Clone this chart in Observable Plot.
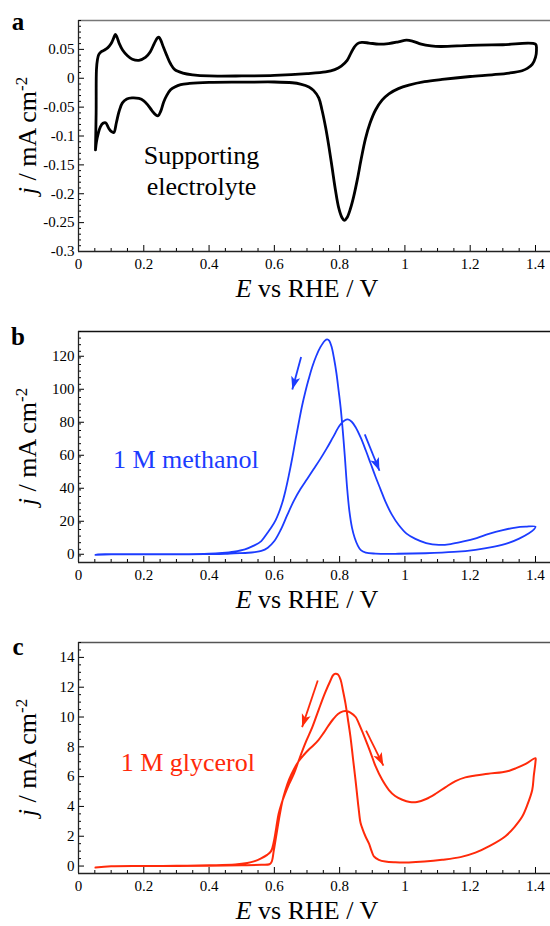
<!DOCTYPE html>
<html><head><meta charset="utf-8">
<script src="https://cdn.jsdelivr.net/npm/d3@7"></script>
<script src="https://cdn.jsdelivr.net/npm/@observablehq/plot@0.6"></script>
<style>body{margin:0;background:#fff}#chart svg{display:block}</style>
</head><body><div id="chart"></div>
<script>
// ---------- data ----------
const xTickLabels = [0, 0.2, 0.4, 0.6, 0.8, 1, 1.2, 1.4];

// Panel a: supporting electrolyte (E / V, j / mA cm-2)
const aE = [0.052,0.054,0.055,0.058,0.062,0.070,0.080,0.090,0.100,0.108,0.113,0.118,0.125,0.135,0.150,0.165,0.185,0.205,0.220,0.232,0.242,0.247,0.252,0.260,0.270,0.282,0.295,0.320,0.350,0.400,0.500,0.600,0.700,0.757,0.785,0.805,0.823,0.835,0.845,0.855,0.868,0.890,0.920,0.950,0.980,1.005,1.025,1.050,1.080,1.110,1.200,1.300,1.400,
 1.403,1.400,1.390,1.375,1.359,1.320,1.267,1.200,1.114,1.060,1.012,0.980,0.951,0.930,0.910,0.893,0.879,0.866,0.854,0.843,0.833,0.823,0.815,0.807,0.797,0.787,0.777,0.767,0.757,0.746,0.736,0.720,0.706,0.680,0.655,0.600,0.500,0.400,0.340,0.313,0.295,0.282,0.270,0.261,0.252,0.244,0.236,0.225,0.212,0.200,0.185,0.164,0.148,0.134,0.124,0.116,0.108,0.100,0.093,0.083,0.075,0.067,0.060,0.055,0.052];
const aJ = [-0.124,-0.060,0.015,0.032,0.041,0.046,0.049,0.053,0.060,0.070,0.076,0.071,0.060,0.049,0.039,0.033,0.031,0.036,0.046,0.060,0.070,0.071,0.066,0.054,0.040,0.025,0.015,0.009,0.006,0.004,0.004,0.005,0.008,0.011,0.015,0.021,0.031,0.044,0.054,0.060,0.062,0.061,0.059,0.060,0.063,0.066,0.064,0.059,0.056,0.055,0.057,0.058,0.059,
 0.050,0.036,0.024,0.017,0.013,0.009,0.006,0.003,-0.002,-0.006,-0.012,-0.018,-0.027,-0.038,-0.055,-0.078,-0.105,-0.140,-0.176,-0.205,-0.226,-0.241,-0.246,-0.241,-0.224,-0.193,-0.155,-0.118,-0.085,-0.055,-0.034,-0.021,-0.015,-0.010,-0.0078,-0.0065,-0.0068,-0.0073,-0.009,-0.011,-0.015,-0.020,-0.030,-0.041,-0.057,-0.065,-0.063,-0.056,-0.046,-0.039,-0.035,-0.034,-0.036,-0.043,-0.058,-0.077,-0.094,-0.092,-0.087,-0.077,-0.078,-0.084,-0.097,-0.110,-0.124];

// Panel b: 1 M methanol
const bE = [0.052,0.060,0.100,0.200,0.300,0.400,0.450,0.476,0.520,0.540,0.560,0.580,0.600,0.620,0.640,0.660,0.680,0.700,0.720,0.740,0.760,0.780,0.800,0.815,0.825,0.837,0.849,0.865,0.880,0.895,0.910,0.925,0.940,0.960,0.981,1.005,1.032,1.065,1.104,1.140,1.176,1.220,1.257,1.300,1.339,1.370,1.400,
 1.395,1.380,1.350,1.318,1.270,1.216,1.150,1.063,0.980,0.910,0.880,0.865,0.855,0.846,0.838,0.830,0.823,0.816,0.810,0.803,0.797,0.790,0.783,0.775,0.768,0.762,0.755,0.741,0.728,0.716,0.705,0.695,0.685,0.675,0.665,0.655,0.644,0.634,0.624,0.614,0.604,0.590,0.578,0.560,0.537,0.510,0.476,0.440,0.400,0.300,0.200,0.100,0.052];
const bJ = [-0.4,-0.1,0,0,0,0.1,0.3,0.6,0.9,1.3,2.0,4.0,8.0,15,24,32.5,39.5,45.5,51.5,57.5,64,71,78,81,81.7,80.3,77,70.5,63,55,47,39.5,32,24,17.7,12.5,9.3,6.8,5.7,6.2,7.6,9.8,12.3,14.6,16.2,16.7,16.7,
 15,12.7,9.5,6.9,4.5,2.7,1.4,0.6,0.3,0.4,1.0,2.5,5.5,10,16,26,40,59,74,89,99,110,118.5,126,129.5,130.2,129.5,125.5,120,113.5,106,98.5,90,80,69.5,58.5,47.5,38.5,31,25.3,20.7,16,12.7,8,5.2,3,1.6,0.8,0.3,0,0,-0.1,-0.4];

// Panel c: 1 M glycerol
const cE = [0.052,0.100,0.200,0.400,0.500,0.560,0.585,0.592,0.598,0.604,0.610,0.617,0.624,0.634,0.645,0.660,0.675,0.690,0.705,0.720,0.735,0.750,0.765,0.780,0.795,0.810,0.820,0.833,0.849,0.864,0.879,0.895,0.910,0.930,0.951,0.970,0.992,1.015,1.037,1.065,1.094,1.125,1.155,1.185,1.216,1.255,1.298,1.320,1.339,1.370,1.400,
 1.400,1.395,1.390,1.375,1.359,1.335,1.308,1.260,1.216,1.170,1.114,1.060,1.012,0.970,0.940,0.920,0.905,0.898,0.890,0.879,0.870,0.864,0.858,0.853,0.849,0.841,0.833,0.825,0.818,0.810,0.803,0.795,0.787,0.780,0.772,0.755,0.736,0.716,0.695,0.675,0.660,0.645,0.632,0.622,0.613,0.606,0.598,0.590,0.578,0.558,0.540,0.517,0.480,0.400,0.300,0.200,0.100,0.052];
const cJ = [-0.1,-0.02,0,0.02,0.05,0.08,0.12,0.3,1.0,1.8,2.6,3.5,4.3,5.1,5.8,6.5,7.05,7.45,7.8,8.1,8.45,8.9,9.4,9.85,10.2,10.38,10.4,10.3,10.0,9.3,8.5,7.6,6.7,5.8,5.1,4.7,4.45,4.3,4.3,4.5,4.85,5.3,5.7,5.95,6.07,6.2,6.3,6.4,6.55,6.85,7.24,
 7.0,6.1,5.1,4.1,3.3,2.6,2.0,1.35,0.9,0.6,0.42,0.3,0.24,0.25,0.3,0.42,0.65,1.0,1.5,2.0,2.5,2.9,3.9,4.9,5.7,7.2,8.7,9.9,10.9,11.8,12.5,12.85,12.9,12.8,12.45,11.6,10.5,9.3,8.25,7.1,6.2,5.5,4.8,4.2,3.5,2.6,1.6,1.0,0.75,0.5,0.33,0.2,0.1,0.05,0.02,0,-0.02,-0.1];

// ---------- drawing ----------
const FONT = "'Liberation Serif', 'Times New Roman', serif";
const W = 550, ML = 78, MR = 0, MT = 20, FH = 231;
const xDomain = [0, 1.446];
const xMinor = d3.range(0, 29).map(i => +(i * 0.05).toFixed(2)).filter(v => !xTickLabels.includes(v));

const headSymbol = {draw(ctx) { ctx.moveTo(0, 0); ctx.lineTo(-4.6, 13); ctx.lineTo(0, 10); ctx.lineTo(4.6, 13); ctx.closePath(); }};

function panel(cfg) {
  const {E, J, color, sw, yDomain, yTicks, yMinorStep, letter, letterY, notes, arrows, topColor, height} = cfg;
  const MB = height - MT - FH;
  const data = E.map((e, i) => ({E: e, j: J[i]}));
  const n = Math.round((yDomain[1] - yDomain[0]) / yMinorStep);
  const yMinor = d3.range(0, n + 1).map(i => +(yDomain[0] + i * yMinorStep).toFixed(4))
    .filter(v => !yTicks.some(t => Math.abs(t - v) < 1e-9));
  const kx = (W - ML - MR) / (xDomain[1] - xDomain[0]);
  const ky = FH / (yDomain[1] - yDomain[0]);
  const angle = d => Math.atan2((d.x2 - d.x1) * kx, (d.y2 - d.y1) * ky) * 180 / Math.PI;
  const plot = Plot.plot({
    width: W, height, marginLeft: ML, marginRight: MR, marginTop: MT, marginBottom: MB,
    style: {fontFamily: FONT, fontSize: "15px", color: "#000", background: "#fff", overflow: "visible"},
    x: {domain: xDomain, label: null},
    y: {domain: yDomain, label: null},
    marks: [
      Plot.ruleY([yDomain[1]], {stroke: topColor, strokeWidth: 1.3}),
      Plot.axisX({ticks: xMinor, tickSize: -3, tickFormat: () => "", label: null}),
      Plot.axisX({ticks: xTickLabels, tickSize: -6, tickFormat: () => "", label: null}),
      Plot.axisX({ticks: xTickLabels, tickSize: 0, tickPadding: 7, tickFormat: d => String(d), label: null}),
      Plot.axisY({ticks: yMinor, tickSize: -3, tickFormat: () => "", label: null}),
      Plot.axisY({ticks: yTicks, tickSize: -6, tickFormat: () => "", label: null}),
      Plot.axisY({ticks: yTicks, tickSize: 0, tickPadding: 4, tickFormat: d => String(d), label: null}),
      Plot.ruleX([xDomain[0]], {stroke: "#222", strokeWidth: 1.3}),
      Plot.ruleY([yDomain[0]], {stroke: "#222", strokeWidth: 1.3}),
      Plot.line(data, {x: "E", y: "j", stroke: color, strokeWidth: sw, curve: "catmull-rom"}),
      Plot.text(notes, {x: "x", y: "y", text: "text", fill: color, fontSize: 26, fontFamily: FONT, textAnchor: "middle", dy: -8.3}),
      Plot.link(arrows, {x1: "x1", y1: "y1", x2: "x2", y2: "y2", stroke: color, strokeWidth: 1.8}),
      Plot.dot(arrows, {x: "x2", y: "y2", symbol: headSymbol, r: 5, fill: color, stroke: "none", rotate: angle})
    ]
  });
  const svg = d3.select(plot);
  // panel letter
  svg.append("text").attr("x", 18).attr("y", letterY).attr("font-family", FONT)
    .attr("font-size", 25).attr("font-weight", "bold").attr("fill", "#000").text(letter);
  // x-axis title
  const xt = svg.append("text").attr("x", 307).attr("y", MT + FH + 46).attr("text-anchor", "middle")
    .attr("font-family", FONT).attr("font-size", 26).attr("fill", "#000");
  xt.append("tspan").attr("font-style", "italic").text("E");
  xt.append("tspan").text(" vs RHE / V");
  // y-axis title
  const yt = svg.append("text").attr("transform", `translate(36,${MT + FH / 2}) rotate(-90)`)
    .attr("text-anchor", "middle").attr("font-family", FONT).attr("font-size", 26).attr("fill", "#000");
  yt.append("tspan").attr("font-style", "italic").text("j");
  yt.append("tspan").text(" / mA cm");
  yt.append("tspan").attr("font-size", 17).attr("dy", "-0.55em").text("-2");
  return plot;
}

const chart = document.getElementById("chart");
chart.append(panel({
  E: aE, J: aJ, color: "#000", sw: 2.8, yDomain: [-0.3, 0.1],
  yTicks: [0.05, 0, -0.05, -0.1, -0.15, -0.2, -0.25, -0.3], yMinorStep: 0.01,
  letter: "a", letterY: 30, topColor: "#777", height: 311,
  notes: [{x: 0.377, y: -0.148, text: "Supporting"}, {x: 0.377, y: -0.202, text: "electrolyte"}],
  arrows: []
}));
chart.append(panel({
  E: bE, J: bJ, color: "#1c3cff", sw: 1.8, yDomain: [-5, 135],
  yTicks: [0, 20, 40, 60, 80, 100, 120], yMinorStep: 4,
  letter: "b", letterY: 34, topColor: "#111", height: 311,
  notes: [{x: 0.329, y: 52.4, text: "1 M methanol"}],
  arrows: [{x1: 0.682, y1: 119.5, x2: 0.655, y2: 99.8}, {x1: 0.877, y1: 72.6, x2: 0.922, y2: 50.6}]
}));
chart.append(panel({
  E: cE, J: cJ, color: "#ff2a0a", sw: 2, yDomain: [-0.5, 15],
  yTicks: [0, 2, 4, 6, 8, 10, 12, 14], yMinorStep: 0.5,
  letter: "c", letterY: 33, topColor: "#555", height: 304,
  notes: [{x: 0.335, y: 6.38, text: "1 M glycerol"}],
  arrows: [{x1: 0.733, y1: 12.45, x2: 0.685, y2: 9.32}, {x1: 0.881, y1: 9.09, x2: 0.934, y2: 6.74}]
}));
</script></body></html>
